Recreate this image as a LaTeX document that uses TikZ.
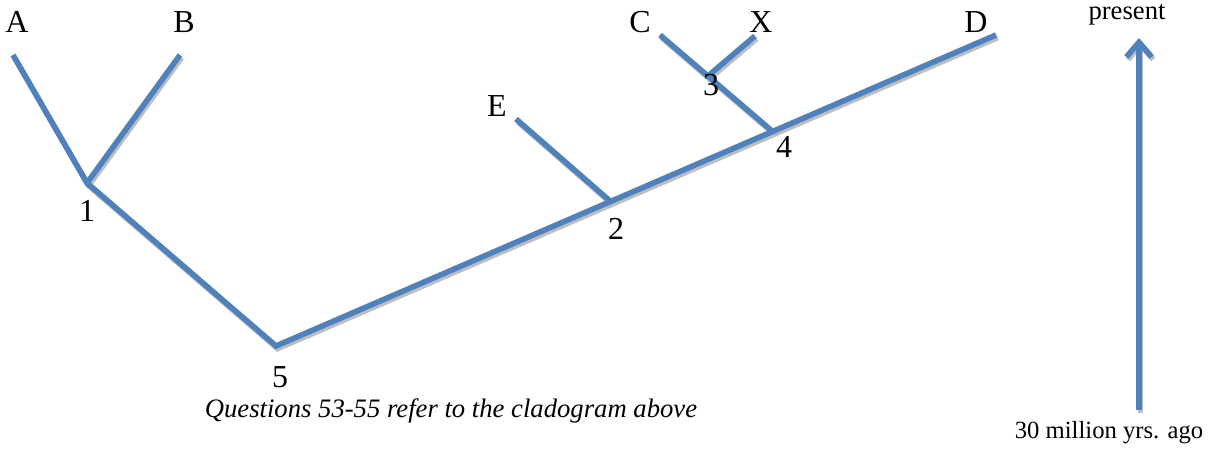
\documentclass[tikz,border=0pt]{standalone}
\usepackage{fontspec}
\setmainfont{Liberation Serif}
\usetikzlibrary{arrows.meta}
\definecolor{branchblue}{RGB}{79,129,189}
\definecolor{shadowgray}{RGB}{190,190,190}

\begin{document}
\begin{tikzpicture}[x=0.75pt, y=-0.75pt,
    branch/.style={line width=4.2pt, branchblue, line join=miter},
    shade/.style={line width=4.2pt, shadowgray, line join=miter},
    lbl/.style={font=\fontsize{24}{24}\selectfont, inner sep=0pt},
    note/.style={font=\fontsize{18.5}{18.5}\selectfont, inner sep=0pt}]

\useasboundingbox (0,0) rectangle (1213,449);

% Branch points and tips
\coordinate (n1) at (87,183);
\coordinate (n2) at (610,201);
\coordinate (n3) at (708,76);
\coordinate (n4) at (772,131);
\coordinate (n5) at (276,346);
\coordinate (tA) at (13,55);
\coordinate (tB) at (180,55);
\coordinate (tC) at (660,35);
\coordinate (tX) at (755,36);
\coordinate (tD) at (996,35);
\coordinate (tE) at (516,119);
\coordinate (past) at (1139,410);
\coordinate (now) at (1139,38);

% Shadows
\begin{scope}[transform canvas={xshift=1.2pt, yshift=-2pt}]
    \draw[shade] (tA) -- (n1) -- (n5) -- (tD);
    \draw[shade] (tB) -- (n1);
    \draw[shade] (tE) -- (n2);
    \draw[shade] (tC) -- (n4);
    \draw[shade] (tX) -- (n3);
    \draw[shade, -{Straight Barb[length=11pt,width=19pt]}] (past) -- (now);
\end{scope}

% Branches
\draw[branch] (tA) -- (n1) -- (n5) -- (tD);
\draw[branch] (tB) -- (n1);
\draw[branch] (tE) -- (n2);
\draw[branch] (tC) -- (n4);
\draw[branch] (tX) -- (n3);

% Time axis
\draw[branch, -{Straight Barb[length=11pt,width=19pt]}] (past) -- (now);

% Labels
\node[lbl] (lA) at (17,22) {A};
\node[lbl] (lB) at (184,22) {B};
\node[lbl] (lC) at (640,22) {C};
\node[lbl] (lX) at (761,22) {X};
\node[lbl] (lD) at (976,22) {D};
\node[lbl] (lE) at (497,106) {E};
\node[lbl] (l1) at (87,211) {1};
\node[lbl] (l2) at (616,229) {2};
\node[lbl] (l3) at (711,85) {3};
\node[lbl] (l4) at (784,147) {4};
\node[lbl] (l5) at (280,377) {5};
\node[note, font=\fontsize{20}{20}\selectfont] (top) at (1127,15) {present};
\node[note] (bottom) at (1109,433) {30 million yrs. ago};
\node[note, font=\fontsize{20}{20}\selectfont\itshape] (caption) at (451,411) {Questions 53-55 refer to the cladogram above};

\end{tikzpicture}
\end{document}
